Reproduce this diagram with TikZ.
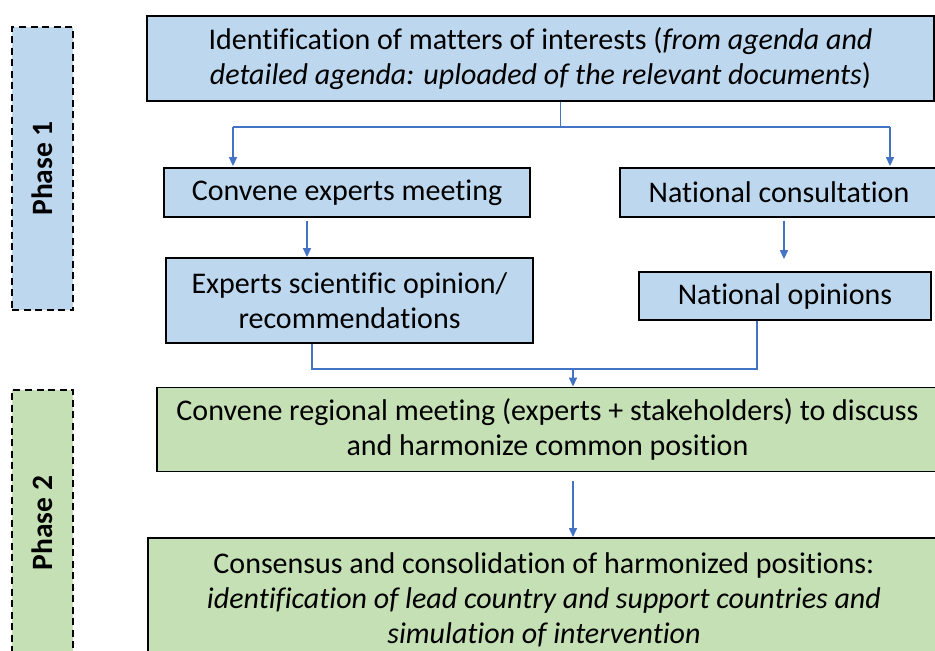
\documentclass[tikz,border=0pt]{standalone}
\usepackage{fontspec}
\setmainfont[Ligatures=NoCommon]{Carlito}
\usetikzlibrary{arrows.meta,calc}
\definecolor{bluefill}{RGB}{189,215,238}
\definecolor{greenfill}{RGB}{197,224,180}
\definecolor{arrowblue}{RGB}{68,114,196}
\begin{document}
\begin{tikzpicture}[x=1pt,y=-1pt,
  box/.style={draw=black,line width=1.8pt,inner sep=0pt,align=center,
    font=\fontsize{30}{35}\selectfont},
  bluebox/.style={box,fill=bluefill},
  greenbox/.style={box,fill=greenfill},
  phasebox/.style={draw=black,line width=1.8pt,dash pattern=on 7pt off 4.5pt,
    inner sep=0pt,minimum width=61pt},
  phaselabel/.style={rotate=90,font=\fontsize{29.5}{32}\selectfont\bfseries},
  conn/.style={draw=arrowblue,line width=1.5pt},
  arr/.style={conn,-{Triangle[length=9pt,width=8pt]}}
]
\useasboundingbox (0,0) rectangle (935,651);
\clip (0,0) rectangle (935,651);

% phase boxes
\node[phasebox,fill=bluefill,minimum height=283pt] (ph1) at (42.5,168.5) {};
\node[phaselabel] (ph1t) at (ph1.center) {Phase 1};
\node[phasebox,fill=greenfill,minimum height=266pt] (ph2) at (42.5,523) {};
\node[phaselabel] (ph2t) at (ph2.center) {Phase 2};

% boxes
\node[bluebox,minimum width=787pt,minimum height=85pt] (top) at (540.5,58.5)
  {Identification of matters of interests (\textit{from agenda and}\\
   \textit{detailed agenda: uploaded of the relevant documents})};
\node[bluebox,minimum width=366pt,minimum height=49pt] (conv) at (347,192.5)
  {Convene experts meeting};
\node[bluebox,minimum width=318pt,minimum height=49pt] (natc) at (779,192.5)
  {National consultation};
\node[bluebox,minimum width=367pt,minimum height=85pt] (exp) at (349.5,300.5)
  {Experts scientific opinion/\\recommendations};
\node[bluebox,minimum width=292pt,minimum height=48pt] (nop) at (785,296)
  {National opinions};
\node[greenbox,minimum width=781pt,minimum height=84pt] (reg) at (547.5,429.5)
  {Convene regional meeting (experts + stakeholders) to discuss\\
   and harmonize common position};
\node[greenbox,minimum width=792pt,minimum height=124pt,anchor=north] (cons) at (544,537)
  {Consensus and consolidation of harmonized positions:\\
   \textit{identification of lead country and support countries and}\\
   \textit{simulation of intervention}};

% connector coordinates
\coordinate (tj) at (560,127);
\coordinate (ta) at (233,127);
\coordinate (tb) at (890,127);
\coordinate (ca) at (307,0);
\coordinate (na) at (784,0);
\coordinate (ea) at (312,0);
\coordinate (oa) at (757,0);
\coordinate (mj) at (573,369);

% phase 1 connectors
\draw[conn,line width=1pt] (top.south -| tj) -- (tj);
\draw[conn] (ta) -- (tb);
\draw[arr,shorten >=1pt] (ta) -- (conv.north -| ta);
\draw[arr,shorten >=1pt] (tb) -- (natc.north -| tb);
\draw[arr,shorten <=3pt] (conv.south -| ca) -- (exp.north -| ca);
\draw[arr,shorten <=3pt,shorten >=12pt] (natc.south -| na) -- (nop.north -| na);
\draw[conn] (exp.south -| ea) |- (mj) -| (nop.south -| oa);
\draw[arr] (mj) -- (reg.north -| mj);

% phase 2 connector
\draw[arr,shorten <=9pt] (reg.south -| mj) -- (cons.north -| mj);
\end{tikzpicture}
\end{document}
